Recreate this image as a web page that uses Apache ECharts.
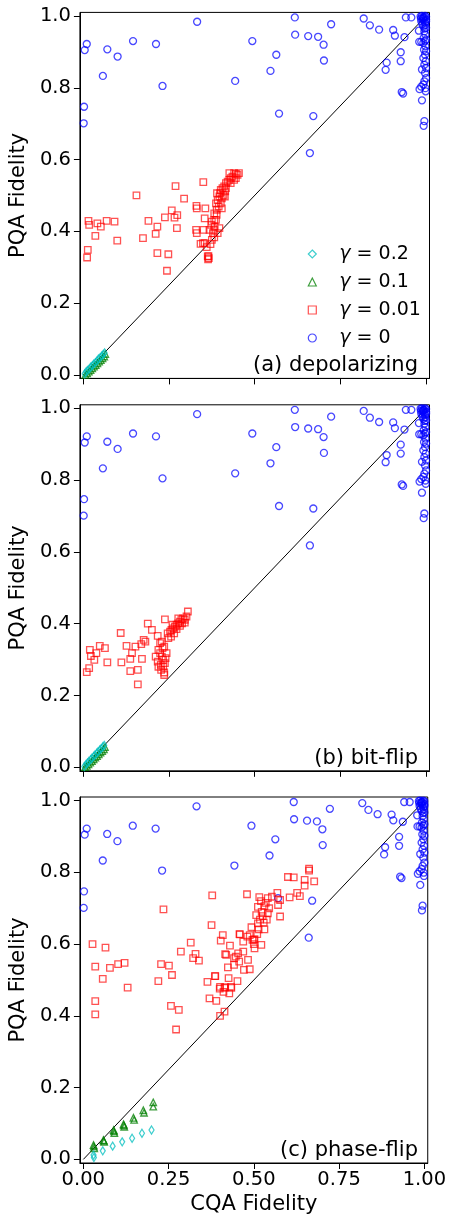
<!DOCTYPE html>
<html>
<head>
<meta charset="utf-8">
<script src="https://cdn.jsdelivr.net/npm/echarts@6/dist/echarts.min.js"></script>
<style>
  html, body { margin: 0; padding: 0; background: #fff; }
  #chart { width: 449px; height: 1216px; }
</style>
</head>
<body>
<div id="chart"></div>
<script>
// tick labels
var xTicks = [0, 0.25, 0.5, 0.75, 1];
var yTicks = [0, 0.2, 0.4, 0.6, 0.8, 1];
var panelLabels = ['(a) depolarizing', '(b) bit-flip', '(c) phase-flip'];
var gammaValues = ['0.2', '0.1', '0.01', '0'];

// gamma = 0 (same in every panel)
var gamma0 = [
  [0.332,0.984],[0.004,0.905],[0.010,0.922],[0.070,0.907],[0.100,0.887],[0.145,0.930],[0.212,0.922],
  [0.057,0.833],[0.231,0.805],[0.002,0.747],[0.001,0.701],[0.493,0.930],[0.443,0.819],[0.546,0.847],
  [0.563,0.892],[0.571,0.728],[0.617,0.996],[0.618,0.948],[0.656,0.944],[0.685,0.942],[0.701,0.920],
  [0.702,0.876],[0.723,0.977],[0.661,0.618],[0.671,0.721],[0.818,0.993],[0.836,0.974],[0.863,0.962],
  [0.904,0.961],[0.909,0.945],[0.937,0.941],[0.941,0.996],[0.957,0.996],[0.885,0.870],[0.882,0.850],
  [0.926,0.899],[0.926,0.874],[0.929,0.788],[0.933,0.784],[0.980,0.928],[0.986,0.928],[0.979,0.959],
  [0.988,0.765],[0.981,0.796],[0.986,0.803],[0.995,0.707],[0.993,0.694],
  [0.984,0.999],[0.988,1.000],[0.992,0.994],[0.997,1.000],[1.000,0.990],[0.986,0.985],[0.997,0.981],
  [0.992,0.971],[1.000,0.967],[0.995,0.957],[0.998,0.948],[0.993,0.939],[1.000,0.934],[0.997,0.930],
  [0.992,0.925],[0.998,0.916],[0.994,0.906],[1.000,0.902],[0.997,0.892],[0.992,0.883],[0.999,0.874],
  [0.995,0.864],[1.000,0.855],[0.988,0.851],[0.997,0.841],[1.000,0.827],[0.995,0.818],[0.992,0.809],
  [0.998,0.799],[0.990,0.992],[0.995,0.996],[1.000,0.998],[0.993,0.988],[0.998,0.975],[0.989,0.978],
  [0.996,0.965],[1.000,0.985],[0.999,0.790],[0.992,0.997],[0.985,0.993]
];

// (a) depolarizing
var redDepol = [
  [0.155,0.500],[0.269,0.526],[0.350,0.537],[0.294,0.491],[0.015,0.429],[0.017,0.418],[0.041,0.422],
  [0.051,0.413],[0.068,0.429],[0.091,0.427],[0.035,0.387],[0.099,0.374],[0.013,0.348],[0.011,0.327],
  [0.190,0.429],[0.216,0.413],[0.211,0.393],[0.174,0.381],[0.216,0.339],[0.248,0.336],[0.244,0.290],
  [0.238,0.439],[0.258,0.458],[0.266,0.438],[0.274,0.445],[0.273,0.409],[0.330,0.471],[0.331,0.464],
  [0.356,0.464],[0.354,0.436],[0.329,0.404],[0.331,0.395],[0.351,0.404],[0.342,0.365],[0.354,0.367],
  [0.363,0.330],[0.366,0.325],[0.349,0.367],[0.360,0.356],[0.365,0.331],[0.364,0.322],[0.371,0.364],
  [0.375,0.376],[0.378,0.395],[0.382,0.404],[0.375,0.427],[0.387,0.432],[0.382,0.450],[0.389,0.460],
  [0.387,0.478],[0.392,0.487],[0.397,0.497],[0.390,0.506],[0.401,0.515],[0.406,0.520],[0.411,0.525],
  [0.416,0.534],[0.421,0.538],[0.426,0.543],[0.430,0.548],[0.435,0.552],[0.426,0.562],[0.440,0.562],
  [0.445,0.560],[0.454,0.562],[0.404,0.492],[0.395,0.469],[0.399,0.506],[0.414,0.511],[0.409,0.501],
  [0.383,0.413],[0.368,0.404],[0.373,0.418],[0.382,0.383],[0.392,0.395],[0.397,0.409],[0.382,0.432],
  [0.389,0.446],[0.401,0.478],[0.404,0.464],[0.416,0.520],[0.430,0.534],[0.440,0.543],[0.445,0.548],
  [0.450,0.557],[0.413,0.497]
];
var greenDepol = [
  [0.006,0.000],[0.011,0.004],[0.016,0.009],[0.021,0.013],[0.026,0.018],[0.031,0.023],[0.036,0.027],
  [0.041,0.032],[0.046,0.037],[0.051,0.041],[0.056,0.046],[0.061,0.051],[0.064,0.058]
];
var cyanDepol = [
  [0.004,0.003],[0.008,0.008],[0.012,0.012],[0.017,0.016],[0.021,0.021],[0.026,0.025],[0.030,0.030],
  [0.035,0.034],[0.040,0.039],[0.044,0.044],[0.049,0.048],[0.054,0.053],[0.058,0.057],[0.062,0.061]
];

// (b) bit-flip
var redBit = [
  [0.109,0.374],[0.188,0.400],[0.238,0.412],[0.200,0.383],[0.217,0.366],[0.176,0.355],[0.181,0.350],
  [0.169,0.343],[0.126,0.338],[0.152,0.336],[0.142,0.318],[0.137,0.302],[0.171,0.302],[0.111,0.292],
  [0.137,0.268],[0.159,0.271],[0.159,0.231],[0.070,0.292],[0.048,0.338],[0.063,0.332],[0.019,0.327],
  [0.038,0.318],[0.022,0.310],[0.032,0.299],[0.017,0.276],[0.010,0.265],
  [0.219,0.327],[0.224,0.318],[0.229,0.308],[0.233,0.299],[0.238,0.290],[0.233,0.280],[0.227,0.271],
  [0.236,0.264],[0.240,0.304],[0.231,0.332],[0.224,0.346],[0.217,0.294],[0.211,0.308],[0.243,0.318],
  [0.236,0.336],[0.226,0.285],[0.219,0.280],[0.229,0.350],[0.236,0.257],[0.248,0.360],[0.246,0.373],
  [0.253,0.378],[0.257,0.383],[0.262,0.387],[0.267,0.392],[0.272,0.397],[0.277,0.401],[0.282,0.406],
  [0.286,0.412],[0.291,0.415],[0.296,0.411],[0.301,0.420],[0.305,0.434],[0.256,0.364],[0.265,0.373],
  [0.272,0.385],[0.282,0.394],[0.288,0.401],[0.296,0.403],[0.277,0.415],[0.260,0.397]
];
var greenBit = [
  [0.005,0.000],[0.010,0.004],[0.015,0.008],[0.020,0.013],[0.025,0.017],[0.030,0.022],[0.035,0.027],
  [0.040,0.031],[0.045,0.036],[0.050,0.041],[0.055,0.045],[0.060,0.050],[0.063,0.056]
];
var cyanBit = [
  [0.003,0.002],[0.008,0.008],[0.012,0.012],[0.016,0.016],[0.021,0.021],[0.025,0.025],[0.030,0.030],
  [0.034,0.034],[0.039,0.039],[0.043,0.043],[0.048,0.048],[0.052,0.052],[0.057,0.057],[0.061,0.061]
];

// (c) phase-flip
var redPhase = [
  [0.662,0.810],[0.662,0.805],[0.600,0.787],[0.617,0.786],[0.649,0.779],[0.649,0.763],[0.677,0.775],
  [0.627,0.743],[0.635,0.734],[0.605,0.730],[0.569,0.743],[0.577,0.723],[0.571,0.709],[0.553,0.732],
  [0.541,0.728],[0.516,0.731],[0.521,0.720],[0.512,0.704],[0.531,0.706],[0.507,0.681],[0.526,0.678],
  [0.541,0.686],[0.577,0.677],[0.512,0.658],[0.529,0.660],[0.493,0.647],[0.514,0.641],[0.531,0.641],
  [0.488,0.625],[0.500,0.600],[0.522,0.598],[0.459,0.627],[0.469,0.607],[0.481,0.621],[0.502,0.614],
  [0.480,0.739],[0.378,0.736],[0.376,0.653],[0.409,0.625],[0.403,0.610],[0.430,0.596],[0.315,0.604],
  [0.286,0.579],[0.329,0.573],[0.322,0.561],[0.339,0.554],[0.416,0.572],[0.454,0.574],[0.469,0.579],
  [0.442,0.561],[0.457,0.551],[0.483,0.556],[0.471,0.528],[0.488,0.530],[0.424,0.535],[0.442,0.542],
  [0.387,0.511],[0.364,0.495],[0.426,0.505],[0.452,0.497],[0.235,0.697],[0.027,0.600],[0.065,0.590],
  [0.035,0.537],[0.078,0.534],[0.102,0.544],[0.121,0.548],[0.057,0.503],[0.130,0.479],[0.228,0.544],
  [0.251,0.540],[0.260,0.514],[0.220,0.497],[0.401,0.481],[0.416,0.480],[0.433,0.481],[0.035,0.441],
  [0.035,0.404],[0.257,0.428],[0.280,0.417],[0.272,0.362],[0.370,0.449],[0.390,0.442],[0.386,0.511],
  [0.400,0.476],[0.414,0.478],[0.411,0.467],[0.428,0.463],[0.434,0.478],[0.401,0.400],[0.414,0.412],
  [0.447,0.565],[0.502,0.588],[0.500,0.612],[0.523,0.690],[0.535,0.715],[0.545,0.700],[0.518,0.668],
  [0.538,0.668],[0.510,0.628],[0.496,0.612],[0.458,0.628],[0.419,0.570]
];
var greenPhase = [
  [0.030,0.040],[0.032,0.031],[0.031,0.036],[0.059,0.054],[0.061,0.049],[0.060,0.052],[0.089,0.082],
  [0.091,0.073],[0.090,0.078],[0.118,0.098],[0.120,0.091],[0.119,0.095],[0.147,0.116],[0.149,0.110],
  [0.176,0.137],[0.178,0.130],[0.205,0.159],[0.205,0.147]
];
var cyanPhase = [
  [0.030,0.012],[0.031,0.005],[0.057,0.024],[0.086,0.037],[0.114,0.049],[0.143,0.059],[0.172,0.073],
  [0.200,0.082]
];

var panels = [
  { red: redDepol, green: greenDepol, cyan: cyanDepol },
  { red: redBit, green: greenBit, cyan: cyanBit },
  { red: redPhase, green: greenPhase, cyan: cyanPhase }
];

var font = 'DejaVu Sans';
var gridTops = [12.4, 404.8, 797];

var grids = [], xAxes = [], yAxes = [], titles = [], series = [];

function marker(name, data, i, symbol, size, color) {
  return {
    name: name,
    type: 'scatter',
    xAxisIndex: i,
    yAxisIndex: i,
    symbol: symbol,
    symbolSize: size,
    data: data,
    z: 3,
    itemStyle: { color: 'rgba(0,0,0,0)', borderColor: color, borderWidth: 1.3 }
  };
}

panels.forEach(function (p, i) {
  grids.push({ left: 75.5, top: gridTops[i], width: 354, height: 366, show: true, borderColor: '#000', borderWidth: 1 });
  xAxes.push({
    gridIndex: i, type: 'value', min: -0.01, max: 1.01,
    axisLine: { onZero: false, lineStyle: { color: '#000', width: 1 } },
    axisTick: { customValues: xTicks, length: 6, lineStyle: { color: '#000' } },
    axisLabel: {
      show: i === 2, customValues: xTicks, margin: 7, color: '#000', fontSize: 19.5, fontFamily: font,
      formatter: function (v) { return v.toFixed(2); }
    },
    splitLine: { show: false },
    name: i === 2 ? 'CQA Fidelity' : '',
    nameLocation: 'middle', nameGap: 31,
    nameTextStyle: { fontSize: 21, color: '#000', fontFamily: font }
  });
  yAxes.push({
    gridIndex: i, type: 'value', min: -0.01, max: 1.01,
    axisLine: { onZero: false, lineStyle: { color: '#000', width: 1 } },
    axisTick: { customValues: yTicks, length: 6, lineStyle: { color: '#000' } },
    axisLabel: {
      customValues: yTicks, margin: 9, color: '#000', fontSize: 19.5, fontFamily: font,
      formatter: function (v) { return v.toFixed(1); }
    },
    splitLine: { show: false },
    name: 'PQA Fidelity', nameLocation: 'middle', nameGap: 37, nameRotate: 90,
    nameTextStyle: { fontSize: 21, color: '#000', fontFamily: font }
  });
  titles.push({
    text: panelLabels[i], right: 31, top: gridTops[i] + 343, padding: 0,
    textStyle: { fontSize: 21, fontWeight: 'normal', color: '#000', fontFamily: font }
  });

  series.push({
    type: 'line', xAxisIndex: i, yAxisIndex: i, data: [[0, 0], [1, 1]],
    symbol: 'none', silent: true, z: 2,
    lineStyle: { color: '#000', width: 1 }
  });
  series.push(marker('g0', gamma0, i, 'circle', 7, 'rgba(0,0,255,0.9)'));
  series.push(marker('g001', p.red, i, 'rect', 6.5, 'rgba(255,0,0,0.85)'));
  series.push(marker('g01', p.green, i, 'triangle', 6.5, 'rgba(0,128,0,0.95)'));
  series.push(marker('g02', p.cyan, i, 'diamond', [5, 8], 'rgba(0,191,191,0.95)'));
});

var legendNames = { g02: gammaValues[0], g01: gammaValues[1], g001: gammaValues[2], g0: gammaValues[3] };

var option = {
  animation: false,
  backgroundColor: '#fff',
  textStyle: { fontFamily: font },
  title: titles,
  grid: grids,
  xAxis: xAxes,
  yAxis: yAxes,
  legend: {
    orient: 'vertical', left: 302.7, top: 239,
    itemWidth: 8, itemHeight: 8, itemGap: 8,
    selectedMode: false,
    data: ['g02', 'g01', 'g001', 'g0'],
    itemStyle: { borderWidth: 1.2 },
    formatter: function (name) { return '{i|γ} = ' + legendNames[name]; },
    textStyle: {
      fontSize: 19, lineHeight: 20, color: '#000', fontFamily: font, padding: [0, 0, 0, 18],
      rich: { i: { fontStyle: 'italic', fontSize: 19, lineHeight: 20, fontFamily: font, color: '#000' } }
    }
  },
  series: series
};

var chart = echarts.init(document.getElementById('chart'));
chart.setOption(option);
</script>
</body>
</html>
